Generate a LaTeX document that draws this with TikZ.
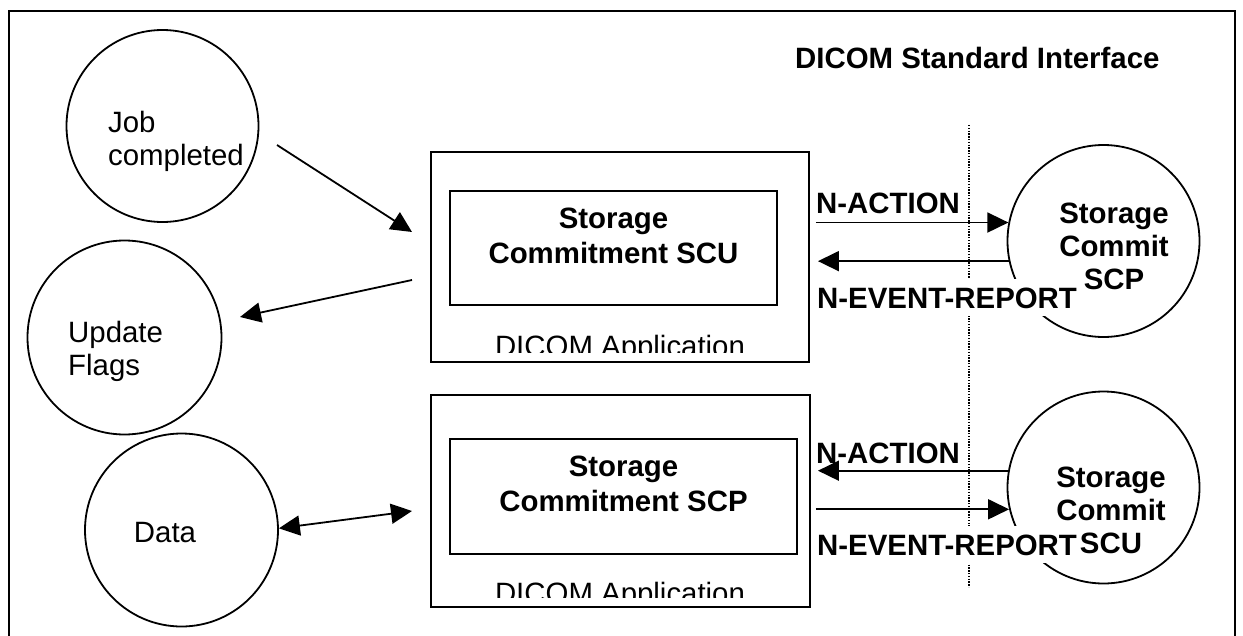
\documentclass[tikz,border=0pt]{standalone}
\usepackage{fontspec}
\setmainfont{Liberation Sans}
\usetikzlibrary{arrows.meta,calc}
\begin{document}
\begin{tikzpicture}[x=1pt,y=-1pt,
  font=\fontsize{29.4}{33}\selectfont,
  circ/.style={circle,draw,line width=1.8pt,minimum size=#1,inner sep=0pt},
  appbox/.style={draw,line width=1.9pt,inner sep=0pt},
  txt/.style={inner sep=0pt},
  boldtxt/.style={inner sep=0pt,align=center,font=\fontsize{29.4}{33}\selectfont\bfseries},
  boxtxt/.style={inner sep=0pt,align=center,font=\fontsize{29.4}{35}\selectfont\bfseries},
  lbl/.style={font=\fontsize{29.4}{33}\selectfont\bfseries,inner sep=0pt,anchor=base west},
  lblbg/.style={lbl,fill=white,inner xsep=3pt,inner ysep=8pt},
  divider/.style={line width=1.5pt,dash pattern=on 1.4pt off 1.4pt},
  arr/.style={line width=1.8pt,-{Triangle[length=21pt,width=20pt]}},
  darr/.style={line width=1.8pt,{Triangle[length=21pt,width=20pt]}-{Triangle[length=21pt,width=20pt]}}
]
\useasboundingbox (0,0) rectangle (1243,635);
\clip (0,0) rectangle (1243,635);
\fill[white] (0,0) rectangle (1243,635);

% outer frame
\draw[line width=2.6pt] (9,11) rectangle (1235,660);

% circles
\node[circ=192pt] (job) at (162.5,126) {};
\node[circ=194pt] (upd) at (124.5,337.5) {};
\node[circ=193pt] (data) at (181.5,530) {};
\node[circ=192pt] (scp) at (1103.5,241) {};
\node[circ=192pt] (scu) at (1103.5,487.5) {};

% application boxes
\node[appbox,minimum width=378pt,minimum height=210pt] (app1) at (620,257) {};
\node[appbox,minimum width=327pt,minimum height=114pt] (scu1) at (613.5,248) {};
\node[appbox,minimum width=379pt,minimum height=212pt] (app2) at (620.5,501) {};
\node[appbox,minimum width=347pt,minimum height=115pt] (scp2) at (623.5,496.5) {};

% interface divider
\coordinate (dtop) at (969,125);
\coordinate (dbot) at (969,587);
\draw[divider] (dtop) -- (dbot);

% title
\node[lbl] (title) at (795,68) {DICOM Standard Interface};

% message labels
\node[lbl] (na1) at (816,213) {N-ACTION};
\node[lblbg] (ne1) at (814,308) {N-EVENT-REPORT};
\node[lbl] (na2) at (816,463) {N-ACTION};
\node[lblbg] (ne2) at (814,555) {N-EVENT-REPORT};

% circle texts
\node[txt,anchor=north west,align=left] (jobt) at (108,111) {Job\\completed};
\node[txt,anchor=north west,align=left] (updt) at (68,321) {Update\\Flags};
\node[txt,anchor=base] (datat) at (165,542) {Data};
\node[boldtxt,anchor=north] (scpt) at (1114,203) {Storage\\Commit\\SCP};
\node[boldtxt,anchor=north] (scut) at (1111,467) {Storage\\Commit\\SCU};

% box texts
\node[boxtxt,anchor=north] (scu1t) at (613.5,208) {Storage\\Commitment SCU};
\node[boxtxt,anchor=north] (scp2t) at (623.5,456) {Storage\\Commitment SCP};
\begin{scope}
  \clip (431,152) rectangle (809,352);
  \node[txt,anchor=base] (app1t) at (620,356) {DICOM Application};
\end{scope}
\begin{scope}
  \clip (431,395) rectangle (810,597);
  \node[txt,anchor=base] (app2t) at (620,603) {DICOM Application};
\end{scope}

% DIMSE arrows
\draw[arr,shorten <=6pt] (app1.east |- scp.169) -- (scp.169);
\draw[arr,shorten >=8pt] (scp.192) -- (app1.east |- scp.192);
\draw[arr,shorten >=7pt] (scu.170) -- (app2.east |- scu.170);
\draw[arr,shorten <=5pt] (app2.east |- scu.193) -- (scu.193);

% local arrows
\coordinate (jobA) at (277,145);
\coordinate (app1A) at (412,232);
\coordinate (app1B) at (412,280);
\coordinate (updA) at (240,317);
\coordinate (app2A) at (412,511);
\draw[arr] (jobA) -- (app1A);
\draw[arr] (app1B) -- (updA);
\draw[darr] (data.1) -- (app2A);
\end{tikzpicture}
\end{document}
